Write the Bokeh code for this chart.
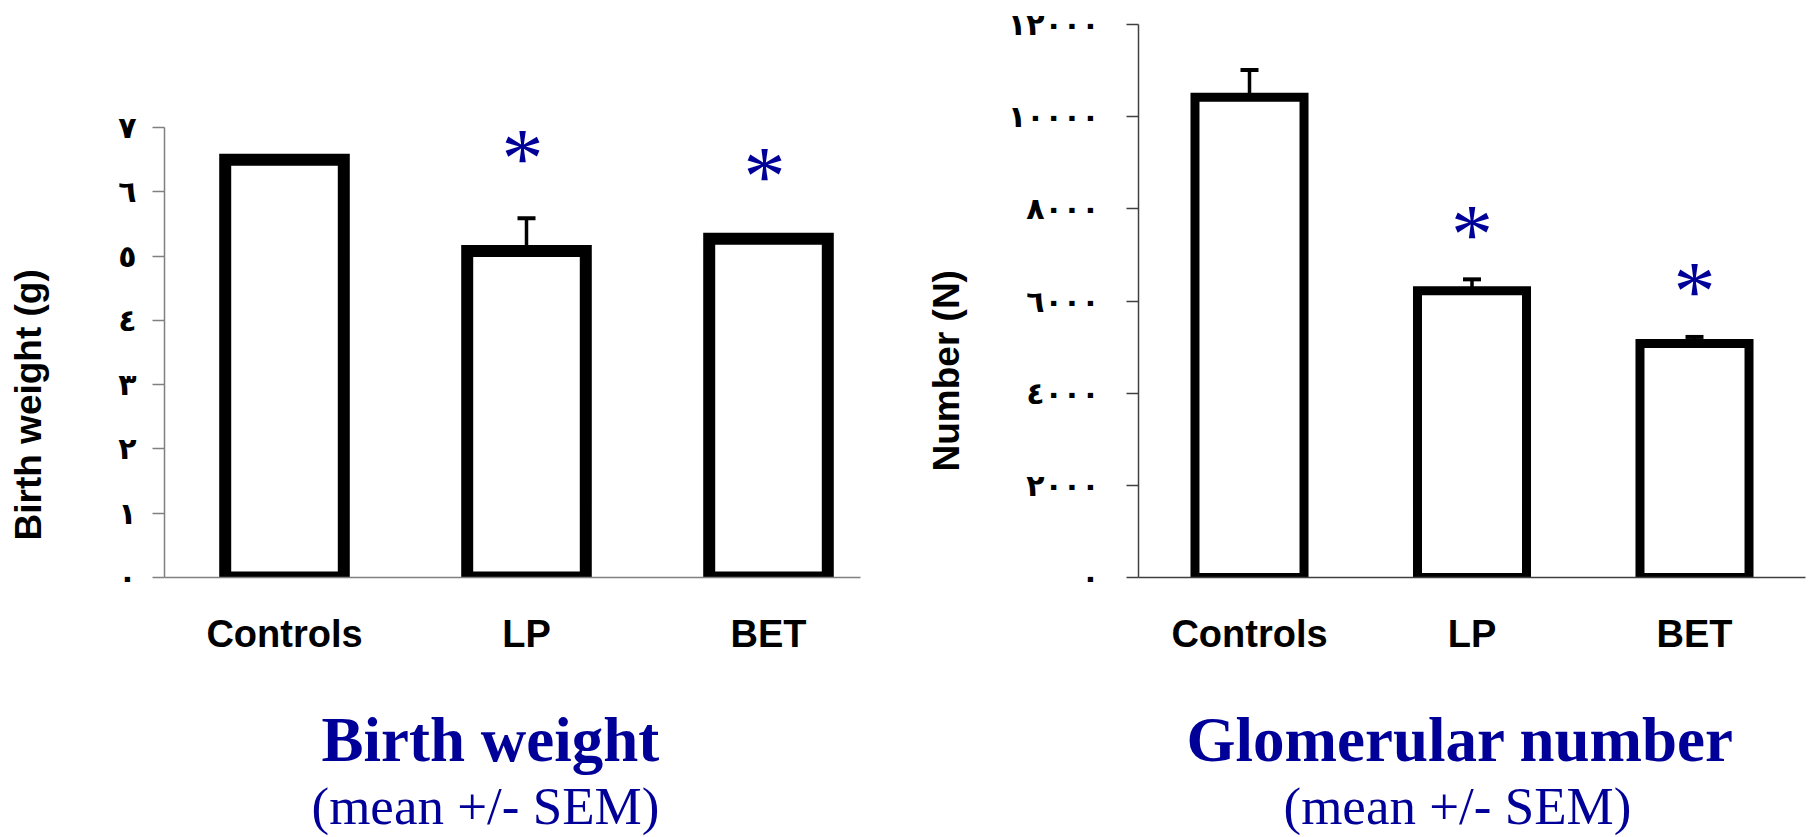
import math
from bokeh.plotting import figure
from bokeh.models import ColumnDataSource, Range1d, FixedTicker, Whisker, TeeHead, Title
from bokeh.layouts import row
from bokeh.core.properties import value
from bokeh.embed import file_html
from bokeh.resources import INLINE

# ---------------- data ----------------
categories = ["Controls", "LP", "BET"]
stars = ["", "*", "*"]

bw_mean = [6.50, 5.08, 5.27]
bw_sem = [0.03, 0.51, 0.03]
bw_ticks = [0, 1, 2, 3, 4, 5, 6, 7]
bw_tick_labels = ["٠", "١", "٢", "٣", "٤", "٥", "٦", "٧"]

gn_mean = [10420, 6220, 5080]
gn_sem = [590, 250, 140]
gn_ticks = [0, 2000, 4000, 6000, 8000, 10000, 12000]
gn_tick_labels = ["٠", "٢٠٠٠", "٤٠٠٠", "٦٠٠٠", "٨٠٠٠", "١٠٠٠٠", "١٢٠٠٠"]

BLUE = "#000099"
H = 837
FRAME_TOP = 24
FRAME_BOTTOM = 577


def make_panel(canvas_x0, width, frame_lr, x_range, axis_max, y_max, means, sems,
               ticks, tick_labels, bar_line, star_gap, star_dx, tick_standoff,
               axis_color, ylabel, ylabel_offset, ylabel_spacer,
               title, title_offset, subtitle, subtitle_offset, spacer):
    L, R = frame_lr
    p = figure(width=width, height=H,
               x_range=Range1d(*x_range), y_range=Range1d(0, y_max),
               output_backend="svg", toolbar_location=None,
               min_border_left=L - canvas_x0,
               min_border_right=canvas_x0 + width - R,
               min_border_top=FRAME_TOP,
               min_border_bottom=H - FRAME_BOTTOM)
    p.outline_line_color = None
    p.xgrid.visible = False
    p.ygrid.visible = False

    xs = list(range(len(categories)))
    src = ColumnDataSource(dict(
        x=xs, mean=means, top=[m + s for m, s in zip(means, sems)],
        star=stars, cat=categories))

    p.vbar(x="x", top="mean", bottom=0, width=0.49, source=src,
           fill_color="white", line_color="black", line_width=bar_line,
           line_join="miter")

    p.add_layout(Whisker(base="x", lower="mean", upper="top", source=src,
                         dimension="height", line_color="black", line_width=3.5,
                         upper_head=TeeHead(size=18, line_width=4, line_color="black"),
                         lower_head=None))

    p.text(x="x", y="top", text="star", source=src,
           text_font=value("Liberation Serif"), text_font_size="84px",
           text_color=BLUE, text_align="center", text_baseline="alphabetic",
           x_offset=star_dx, y_offset=-star_gap + 9)

    # x axis
    xa = p.xaxis[0]
    xa.ticker = FixedTicker(ticks=xs)
    xa.major_label_overrides = {i: c for i, c in zip(xs, categories)}
    xa.major_tick_line_color = None
    xa.minor_tick_line_color = None
    xa.major_tick_out = 0
    xa.major_tick_in = 0
    xa.axis_line_color = axis_color
    xa.axis_line_width = 1.5
    xa.major_label_text_font = "Liberation Sans"
    xa.major_label_text_font_style = "bold"
    xa.major_label_text_font_size = "38px"
    xa.major_label_text_color = "black"
    xa.major_label_standoff = 35

    # y axis
    ya = p.yaxis[0]
    ya.ticker = FixedTicker(ticks=ticks)
    ya.bounds = (0, axis_max)
    ya.major_label_overrides = dict(zip(ticks, tick_labels))
    ya.minor_tick_line_color = None
    ya.major_tick_out = 12
    ya.major_tick_in = 0
    ya.major_tick_line_color = axis_color
    ya.major_tick_line_width = 1.5
    ya.axis_line_color = axis_color
    ya.axis_line_width = 1.5
    ya.major_label_text_font = "DejaVu Sans"
    ya.major_label_text_font_style = "bold"
    ya.major_label_text_font_size = "30px"
    ya.major_label_text_color = "black"
    ya.major_label_standoff = tick_standoff

    # y label (rotated) in the left side panel, pushed out by an empty spacer
    p.add_layout(Title(text=" ", text_font_size="1px", standoff=ylabel_spacer), "left")
    p.add_layout(Title(text=ylabel, align="left", vertical_align="bottom",
                       offset=ylabel_offset, standoff=0,
                       text_font="Liberation Sans", text_font_style="bold",
                       text_font_size="37px", text_color="black"), "left")

    # titles below the chart
    p.add_layout(Title(text=" ", text_font_size="1px", standoff=spacer), "below")
    p.add_layout(Title(text=title, align="left", vertical_align="top",
                       offset=title_offset, standoff=0,
                       text_font="Liberation Serif", text_font_style="bold",
                       text_font_size="63px", text_color=BLUE), "below")
    p.add_layout(Title(text=subtitle, align="left", vertical_align="top",
                       offset=subtitle_offset, standoff=0,
                       text_font="Liberation Serif", text_font_style="normal",
                       text_font_size="53px", text_color=BLUE), "below")
    return p


W1 = 900
W2 = 910
bw_top = 7 * (FRAME_BOTTOM - FRAME_TOP) / (FRAME_BOTTOM - 127)

p1 = make_panel(0, W1, (164, 860),
                x_range=(-120 / 242, 2 + 92 / 242), axis_max=7, y_max=bw_top,
                means=bw_mean, sems=bw_sem, ticks=bw_ticks, tick_labels=bw_tick_labels,
                bar_line=12, star_gap=69, star_dx=-4, tick_standoff=16,
                axis_color="#808080",
                ylabel="Birth weight (g)", ylabel_offset=37, ylabel_spacer=64,
                title="Birth weight", title_offset=157,
                subtitle="(mean +/- SEM)", subtitle_offset=147, spacer=44)

p2 = make_panel(W1, W2, (1138, 1805),
                x_range=(-111 / 222.5, -111 / 222.5 + 667 / 222.5), axis_max=12000,
                y_max=12000,
                means=gn_mean, sems=gn_sem, ticks=gn_ticks, tick_labels=gn_tick_labels,
                bar_line=9, star_gap=54, star_dx=0, tick_standoff=27,
                axis_color="#404040",
                ylabel="Number (N)", ylabel_offset=106, ylabel_spacer=35,
                title="Glomerular number", title_offset=48,
                subtitle="(mean +/- SEM)", subtitle_offset=145, spacer=44)

layout = row(p1, p2, spacing=0)
open("out.html", "w").write(file_html(layout, INLINE))
